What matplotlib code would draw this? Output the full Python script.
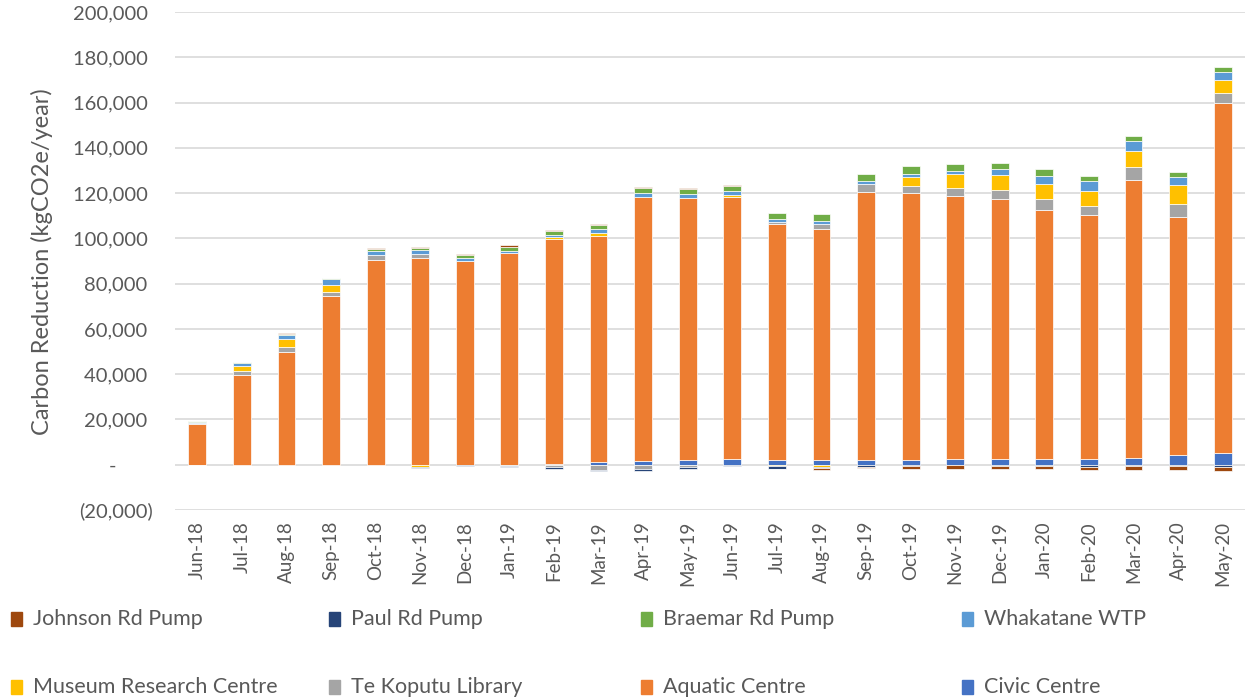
import numpy as np
import matplotlib
matplotlib.use("Agg")
import matplotlib.pyplot as plt
from matplotlib.patches import Rectangle
from matplotlib.ticker import FuncFormatter, MultipleLocator

plt.rcParams['font.family'] = ['Lato', 'DejaVu Sans']

months = ['Jun-18', 'Jul-18', 'Aug-18', 'Sep-18', 'Oct-18', 'Nov-18', 'Dec-18', 'Jan-19',
          'Feb-19', 'Mar-19', 'Apr-19', 'May-19', 'Jun-19', 'Jul-19', 'Aug-19', 'Sep-19',
          'Oct-19', 'Nov-19', 'Dec-19', 'Jan-20', 'Feb-20', 'Mar-20', 'Apr-20', 'May-20']

civic_centre = [0, 0, 0, 0, 0, 0, 0, 0,
                400, 1000, 1800, 2300, 2500, 2100, 2100, 2100,
                2200, 2600, 2500, 2500, 2500, 2900, 4100, 5000]
aquatic_centre = [17900, 39700, 49900, 74600, 90500, 91500, 90000, 93400,
                  99300, 100200, 116600, 115650, 115900, 104450, 102100, 118600,
                  117650, 115900, 114700, 110200, 107700, 123100, 105250, 155000]
te_koputu_library = [400, 1900, 2050, 1900, 2050, 1450, 0, -400,
                     -1100, -2300, -2000, -1100, 0, 700, 2200, 3100,
                     3350, 3950, 4250, 4800, 4100, 5700, 5700, 4400]
museum_research_centre = [0, 1900, 3500, 2800, 0, -1000, -300, -300,
                          700, 1200, 0, 0, 850, -500, -900, 0,
                          3800, 6000, 6400, 6400, 6600, 6700, 8600, 5550]
whakatane_wtp = [500, 1500, 2050, 2800, 2050, 1900, 1450, 1200,
                 1050, 1600, 1600, 1450, 1600, 1150, 1450, 1450,
                 1600, 1450, 2900, 3650, 4400, 4700, 3350, 3350]
braemar_rd_pump = [300, 300, 300, 450, 600, 1050, 1150, 1450,
                   1750, 1900, 2200, 2500, 2200, 2750, 3050, 3200,
                   3350, 3050, 2750, 2900, 2350, 2200, 2350, 2350]
paul_rd_pump = [0, 0, 0, 0, 0, -400, -400, -500,
                -600, -500, -900, -1000, -700, -1200, -700, -900,
                -700, -300, -400, -400, -900, -700, -600, -900]
johnson_rd_pump = [-200, 0, 300, 0, 600, 450, 600, 900,
                   600, 600, 450, 300, 450, -400, -600, -400,
                   -1200, -1600, -1600, -1600, -1500, -1600, -1900, -1900]

series = [
    ('Civic Centre', civic_centre, '#4472C4'),
    ('Aquatic Centre', aquatic_centre, '#ED7D31'),
    ('Te Koputu Library', te_koputu_library, '#A5A5A5'),
    ('Museum Research Centre', museum_research_centre, '#FFC000'),
    ('Whakatane WTP', whakatane_wtp, '#5B9BD5'),
    ('Braemar Rd Pump', braemar_rd_pump, '#70AD47'),
    ('Paul Rd Pump', paul_rd_pump, '#264478'),
    ('Johnson Rd Pump', johnson_rd_pump, '#9E480E'),
]

fig = plt.figure(figsize=(12.46, 7.0), dpi=100)
ax = fig.add_axes([175 / 1246, 1 - 510 / 700, 1070 / 1246, 498 / 700])

x = np.arange(len(months))
pos_base = np.zeros(len(months))
neg_base = np.zeros(len(months))
for name, vals, col in series:
    v = np.array(vals, dtype=float)
    bottom = np.where(v >= 0, pos_base, neg_base)
    ax.bar(x, v, width=0.4, bottom=bottom, color=col, edgecolor='white',
           linewidth=0.5, zorder=3)
    pos_base += np.where(v >= 0, v, 0)
    neg_base += np.where(v < 0, v, 0)

ax.set_xlim(-0.5, len(months) - 0.5)
ax.set_ylim(-20000, 200000)
ax.yaxis.set_major_locator(MultipleLocator(20000))


def fmt(v, _):
    if abs(v) < 1e-6:
        return '-' + ' ' * 7
    if v < 0:
        return '({:,.0f})'.format(-v)
    return '{:,.0f} '.format(v)


ax.yaxis.set_major_formatter(FuncFormatter(fmt))
ax.grid(axis='y', color='#D9D9D9', linewidth=1.2, zorder=0)
for s in ax.spines.values():
    s.set_visible(False)
ax.tick_params(axis='both', length=0, colors='#595959')
ax.tick_params(axis='y', pad=16, labelsize=14.5)
ax.tick_params(axis='x', pad=8, labelsize=13.5)
ax.set_xticks(x)
ax.set_xticklabels(months, rotation=90)
ax.set_ylabel('Carbon Reduction (kgCO2e/year)', fontsize=17, color='#595959',
              va='center')
ax.yaxis.set_label_coords((42 - 175) / 1070, (510 - 262) / 498)

# legend (two rows, four columns)
legend_rows = [
    [('Johnson Rd Pump', '#9E480E'), ('Paul Rd Pump', '#264478'),
     ('Braemar Rd Pump', '#70AD47'), ('Whakatane WTP', '#5B9BD5')],
    [('Museum Research Centre', '#FFC000'), ('Te Koputu Library', '#A5A5A5'),
     ('Aquatic Centre', '#ED7D31'), ('Civic Centre', '#4472C4')],
]
col_x = [33, 351, 663, 984]
row_y = [619, 687]
W, H = 1246, 700
for r, row in enumerate(legend_rows):
    for c, (lab, col) in enumerate(row):
        tx = col_x[c]
        ty = row_y[r]
        fig.patches.append(Rectangle(((tx - 22) / W, 1 - (ty + 7) / H), 11 / W, 14 / H,
                                     transform=fig.transFigure, color=col, zorder=5))
        fig.text(tx / W, 1 - ty / H, lab, fontsize=15.5, color='#595959',
                 ha='left', va='center')

fig.savefig('out.png', dpi=100)
